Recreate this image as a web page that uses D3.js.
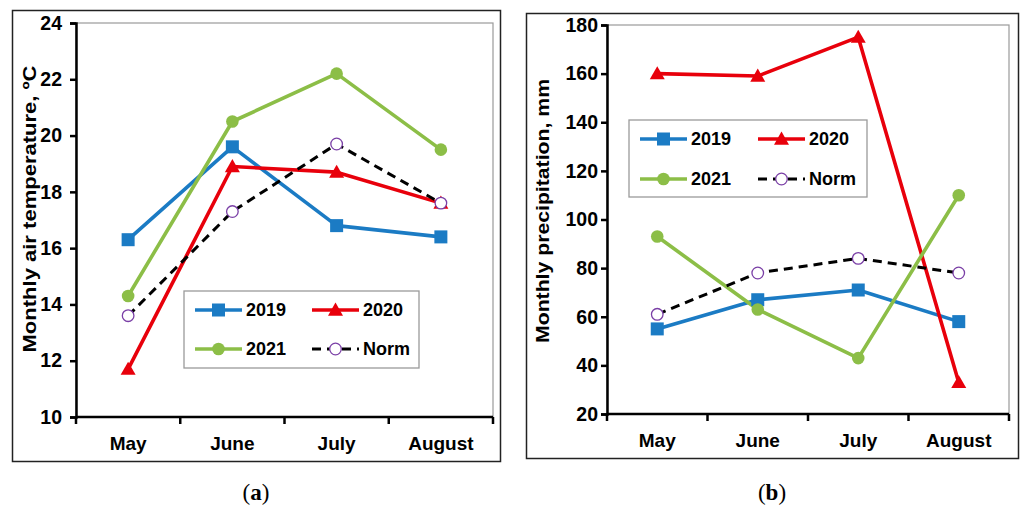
<!DOCTYPE html>
<html>
<head>
<meta charset="utf-8">
<script src="https://cdn.jsdelivr.net/npm/d3@7"></script>
<style>
  html, body { margin: 0; padding: 0; background: #fff; }
  svg { display: block; }
  text { font-family: "Liberation Sans", Arial, sans-serif; font-weight: bold; fill: #000; }
  .caption { font-family: "Liberation Serif", "DejaVu Serif", serif; font-weight: normal; }
</style>
</head>
<body>
<svg id="chart" width="1020" height="510"></svg>
<script>
// Months on the x axis
const months = ["May", "June", "July", "August"];

// (a) Monthly air temperature, °C
const temp2019 = [16.3, 19.6, 16.8, 16.4];
const temp2020 = [11.7, 18.9, 18.7, 17.6];
const temp2021 = [14.3, 20.5, 22.2, 19.5];
const tempNorm = [13.6, 17.3, 19.7, 17.6];
const tempTicks = [10, 12, 14, 16, 18, 20, 22, 24];

// (b) Monthly precipitation, mm
const prec2019 = [55, 67, 71, 58];
const prec2020 = [160, 159, 175, 33];
const prec2021 = [93, 63, 43, 110];
const precNorm = [61, 78, 84, 78];
const precTicks = [20, 40, 60, 80, 100, 120, 140, 160, 180];

const seriesNames = ["2019", "2020", "2021", "Norm"];

const colors = { "2019": "#1b7bc4", "2020": "#e8000b", "2021": "#8cbe47", "Norm": "#000000" };
const normMarkerStroke = "#7a3fa6";

const svg = d3.select("#chart");

function marker(g, name, x, y) {
  const c = colors[name];
  if (name === "2019") {
    g.append("rect").attr("x", x - 6.5).attr("y", y - 6.5).attr("width", 13).attr("height", 13).attr("fill", c);
  } else if (name === "2020") {
    const s = 7.5;
    g.append("path")
      .attr("d", `M${x},${y - s}L${x + s},${y + s * 0.75}L${x - s},${y + s * 0.75}Z`)
      .attr("fill", c);
  } else if (name === "2021") {
    g.append("circle").attr("cx", x).attr("cy", y).attr("r", 6.3).attr("fill", c);
  } else {
    g.append("circle").attr("cx", x).attr("cy", y).attr("r", 5.8)
      .attr("fill", "#fff").attr("stroke", normMarkerStroke).attr("stroke-width", 1.3);
  }
}

function lineStyle(path, name) {
  path.attr("fill", "none").attr("stroke", colors[name])
    .attr("stroke-width", name === "Norm" ? 3 : 3.6)
    .attr("stroke-linejoin", "round");
  if (name === "Norm") path.attr("stroke-dasharray", "9,6");
}

function panel(cfg) {
  const g = svg.append("g");

  // outer frame
  g.append("rect").attr("x", cfg.frame[0] + 0.5).attr("y", cfg.frame[1] + 0.5)
    .attr("width", cfg.frame[2] - cfg.frame[0]).attr("height", cfg.frame[3] - cfg.frame[1])
    .attr("fill", "none").attr("stroke", "#222").attr("stroke-width", 1.5);

  const x = d3.scaleBand().domain(months).range([cfg.left, cfg.right]);
  const y = d3.scaleLinear().domain(cfg.domain).range([cfg.bottom, cfg.top]);

  // plot area border (grey)
  g.append("rect").attr("x", cfg.left).attr("y", cfg.top)
    .attr("width", cfg.right - cfg.left).attr("height", cfg.bottom - cfg.top)
    .attr("fill", "none").attr("stroke", "#9a9a9a").attr("stroke-width", 1.2);

  // y axis
  const yAxis = g.append("g").attr("transform", `translate(${cfg.left},0)`)
    .call(d3.axisLeft(y).tickValues(cfg.ticks).tickSize(6).tickPadding(cfg.tickPad).tickFormat(d3.format("d")));
  yAxis.select(".domain").attr("stroke", "#000").attr("stroke-width", 2.5);
  yAxis.selectAll(".tick line").attr("stroke", "#000").attr("stroke-width", 2.5);
  yAxis.selectAll(".tick text").attr("font-size", 19.5).attr("font-family", "Liberation Sans, Arial, sans-serif").attr("font-weight", "bold").attr("fill", "#000");

  // x axis with tick marks between categories
  const xAxis = g.append("g").attr("transform", `translate(0,${cfg.bottom})`);
  xAxis.append("line").attr("x1", cfg.left).attr("x2", cfg.right)
    .attr("stroke", "#000").attr("stroke-width", 2.5);
  const bounds = months.map(m => x(m)).concat([cfg.right]);
  xAxis.selectAll("line.tk").data(bounds).enter().append("line").attr("class", "tk")
    .attr("x1", d => d).attr("x2", d => d).attr("y1", 0).attr("y2", 7)
    .attr("stroke", "#000").attr("stroke-width", 2.5);
  xAxis.selectAll("text").data(months).enter().append("text")
    .attr("x", d => x(d) + x.bandwidth() / 2).attr("y", 33)
    .attr("text-anchor", "middle").attr("font-size", 19).text(d => d);

  // y axis title
  g.append("text")
    .attr("transform", `translate(${cfg.titleX},${cfg.titleY}) rotate(-90)`)
    .attr("text-anchor", "middle").attr("font-size", 18.5)
    .attr("textLength", cfg.titleLen).attr("lengthAdjust", "spacingAndGlyphs")
    .text(cfg.title);

  // series
  const cx = m => x(m) + x.bandwidth() / 2;
  cfg.series.forEach(([name, vals]) => {
    const line = d3.line().x((d, i) => cx(months[i])).y(d => y(d));
    lineStyle(g.append("path").attr("d", line(vals)), name);
  });
  cfg.series.forEach(([name, vals]) => {
    vals.forEach((v, i) => marker(g, name, cx(months[i]), y(v)));
  });

  // legend
  const L = cfg.legend;
  g.append("rect").attr("x", L.x).attr("y", L.y).attr("width", L.w).attr("height", L.h)
    .attr("fill", "#fff").attr("stroke", "#9a9a9a").attr("stroke-width", 1.3);
  seriesNames.forEach((name, i) => {
    const col = i % 2, row = Math.floor(i / 2);
    const lx = L.x + L.colX[col], ly = L.y + L.rowY[row];
    const p = g.append("path").attr("d", `M${lx},${ly}H${lx + 47}`);
    lineStyle(p, name);
    marker(g, name, lx + 23.5, ly);
    g.append("text").attr("x", lx + 51).attr("y", ly).attr("dy", "0.36em")
      .attr("font-size", 18).text(name);
  });

  // caption
  const cap = g.append("text").attr("class", "caption").attr("x", cfg.capX).attr("y", 500)
    .attr("text-anchor", "middle").attr("font-size", 23);
  cap.append("tspan").text("(");
  cap.append("tspan").attr("font-weight", "bold").text(cfg.capLetter);
  cap.append("tspan").text(")");
}

panel({
  frame: [12, 10, 500, 461],
  left: 76, right: 493, top: 23, bottom: 417,
  domain: [10, 24], ticks: tempTicks, tickPad: 8,
  title: "Monthly air temperature, \u00BAC", titleX: 36, titleY: 209, titleLen: 287,
  series: [["2019", temp2019], ["2020", temp2020], ["2021", temp2021], ["Norm", tempNorm]],
  legend: { x: 184, y: 291, w: 235, h: 77, colX: [11, 128], rowY: [19, 58] },
  capX: 256, capLetter: "a"
});

panel({
  frame: [526, 13, 1018, 458],
  left: 607, right: 1009, top: 25, bottom: 414,
  domain: [20, 180], ticks: precTicks, tickPad: 3,
  title: "Monthly precipitation, mm", titleX: 549, titleY: 211, titleLen: 264,
  series: [["2019", prec2019], ["2020", prec2020], ["2021", prec2021], ["Norm", precNorm]],
  legend: { x: 629, y: 120, w: 238, h: 77, colX: [11, 129], rowY: [19, 59] },
  capX: 772, capLetter: "b"
});
</script>
</body>
</html>
